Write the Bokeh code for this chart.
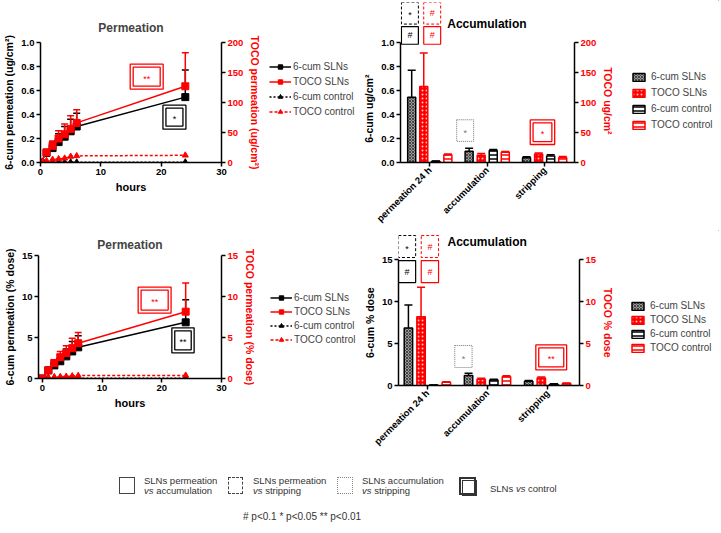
import math
from bokeh.plotting import figure
from bokeh.models import (Range1d, LinearAxis, FixedTicker, NumeralTickFormatter,
                          Legend, LegendItem, BoxAnnotation, Label, Div)
from bokeh.layouts import column, row
from bokeh.embed import file_html
from bokeh.resources import INLINE

# ---------------- data ----------------
hours = [0, 1, 2, 3, 4, 5, 6, 24]

# Permeation, ug/cm2 (6-cum on left axis, TOCO on right axis)
cum_sln_ug = [0, 0.08, 0.12, 0.17, 0.215, 0.26, 0.30, 0.545]
cum_sln_ug_sd = [0, 0.02, 0.05, 0.07, 0.085, 0.10, 0.11, 0.225]
toco_sln_ug = [0, 17, 28, 40, 47, 56, 66, 127]
toco_sln_ug_sd = [0, 4, 8, 13, 17, 22, 22, 56]
cum_ctrl_ug = [0, 0.001, 0.001, 0.002, 0.002, 0.002, 0.002, 0.003]
toco_ctrl_ug = [0, 3, 5, 6, 7, 10, 11, 12]

# Permeation, % dose
cum_sln_pct = [0, 1.0, 1.6, 2.1, 2.7, 3.3, 3.8, 6.85]
cum_sln_pct_sd = [0, 0.2, 0.6, 0.8, 0.9, 1.2, 1.4, 2.75]
toco_sln_pct = [0, 1.0, 1.9, 2.6, 3.1, 3.7, 4.3, 8.15]
toco_sln_pct_sd = [0, 0.2, 0.4, 0.7, 0.9, 1.2, 1.3, 3.5]
cum_ctrl_pct = [0, 0.01, 0.01, 0.02, 0.02, 0.02, 0.02, 0.03]
toco_ctrl_pct = [0, 0.15, 0.2, 0.22, 0.25, 0.3, 0.35, 0.38]

# Accumulation bars
categories = ["permeation 24 h", "accumulation", "stripping"]
series = ["6-cum SLNs", "TOCO SLNs", "6-cum control", "TOCO control"]

acc_ug = {
    "6-cum SLNs": ([0.545, 0.095, 0.04], [0.225, 0.025, 0.008]),
    "TOCO SLNs": ([127, 12, 14], [56, 3, 2]),
    "6-cum control": ([0.01, 0.10, 0.055], [0.003, 0.008, 0.01]),
    "TOCO control": ([13, 17, 8], [1, 1.5, 2]),
}
acc_pct = {
    "6-cum SLNs": ([6.85, 1.2, 0.5], [2.75, 0.25, 0.1]),
    "TOCO SLNs": ([8.2, 0.75, 0.9], [3.5, 0.1, 0.1]),
    "6-cum control": ([0.05, 0.65, 0.15], [0.02, 0.1, 0.05]),
    "TOCO control": ([0.4, 1.05, 0.25], [0.05, 0.1, 0.05]),
}

FONT = "Liberation Sans"
RED = "#ff0000"
EM, EN = "\u2003", "\u2002"
SCALE = {}


def base_fig(w, h, xr, yr, yr2, fl, fw, ft, fh, title=None):
    p = figure(width=w, height=h, x_range=Range1d(*xr), y_range=Range1d(*yr),
               output_backend="svg", toolbar_location=None, title=title,
               frame_align=False,
               min_border_left=fl, min_border_right=w - fl - fw,
               min_border_top=ft, min_border_bottom=h - ft - fh)
    p.extra_y_ranges = {"toco": Range1d(*yr2)}
    p.outline_line_color = None
    p.xgrid.visible = False
    p.ygrid.visible = False
    if title:
        p.title.text_font = FONT
        p.title.text_font_size = "12px"
        p.title.text_font_style = "bold"
        p.title.align = "center"
        p.title.standoff = 8
    SCALE[p.id] = ((xr[1] - xr[0]) / fw, (yr[1] - yr[0]) / fh)
    return p


def style_axis(ax, label, color="black", label_size="10.5px"):
    ax.axis_label = label
    ax.axis_label_text_font = FONT
    ax.axis_label_text_font_style = "bold"
    ax.axis_label_text_font_size = label_size
    ax.axis_label_text_color = color
    ax.axis_label_standoff = 3
    ax.major_label_text_font = FONT
    ax.major_label_text_font_style = "bold"
    ax.major_label_text_font_size = "9.5px"
    ax.major_label_text_color = color
    ax.major_label_standoff = 2
    ax.axis_line_width = 1.5
    ax.axis_line_color = "black"
    ax.major_tick_line_width = 1.5
    ax.major_tick_line_color = "black"
    ax.major_tick_in = 0
    ax.major_tick_out = 4
    ax.minor_tick_line_color = None


def add_axes(p, xlab, ylab, ylab2, xticks, yticks, yticks2, yfmt=None, bounds=None, bounds2=None):
    style_axis(p.xaxis[0], xlab, label_size="11px")
    p.xaxis[0].ticker = FixedTicker(ticks=xticks)
    style_axis(p.yaxis[0], ylab)
    p.yaxis[0].ticker = FixedTicker(ticks=yticks)
    if yfmt:
        p.yaxis[0].formatter = NumeralTickFormatter(format=yfmt)
    ax2 = LinearAxis(y_range_name="toco")
    style_axis(ax2, ylab2, color=RED)
    ax2.ticker = FixedTicker(ticks=yticks2)
    if bounds:
        p.yaxis[0].bounds = bounds
        ax2.bounds = bounds2
    p.add_layout(ax2, "right")


def sig_box(p, cx, cy, wpx, hpx, color, text, dash="solid", double=False, lw=1.3, tsize="9px"):
    sx, sy = SCALE[p.id]
    hw, hh = wpx / 2 * sx, hpx / 2 * sy
    p.add_layout(BoxAnnotation(left=cx - hw, right=cx + hw, bottom=cy - hh, top=cy + hh,
                               fill_alpha=0, line_alpha=1, line_color=color,
                               line_width=lw, line_dash=dash))
    if double:
        i = 3
        p.add_layout(BoxAnnotation(left=cx - hw + i * sx, right=cx + hw - i * sx,
                                   bottom=cy - hh + i * sy, top=cy + hh - i * sy,
                                   fill_alpha=0, line_alpha=1, line_color=color, line_width=lw))
    p.add_layout(Label(x=cx, y=cy, text=text, text_align="center", text_baseline="middle",
                       y_offset=-2 if "*" in text else 0,
                       text_font=FONT, text_font_size=tsize, text_color=color))


def panel_title(p, x, y, text):
    p.add_layout(Label(x=x, y=y, text=text, text_align="center", text_baseline="middle",
                       text_font=FONT, text_font_size="12px", text_font_style="bold",
                       text_color="black"))


# ---- separate narrow key figures, so keys sit outside the plot frames ----
line_style = [
    ("6-cum SLNs", dict(line_color="black", line_width=1.5), dict(marker="square", color="black")),
    ("TOCO SLNs", dict(line_color=RED, line_width=1.5), dict(marker="square", color=RED)),
    ("6-cum control", dict(line_color="black", line_width=1.5, line_dash="2 2"), dict(marker="triangle", color="black")),
    ("TOCO control", dict(line_color=RED, line_width=1.5, line_dash="3 2"), dict(marker="triangle", color=RED)),
]

bar_style = {
    "6-cum SLNs": dict(line_color="black", fill_color="#9a9a9a", hatch_pattern="diagonal_cross",
                       hatch_color="#303030", hatch_scale=3, hatch_weight=0.8),
    "TOCO SLNs": dict(line_color=RED, fill_color=RED, hatch_pattern="dot",
                      hatch_color="#ffc4c4", hatch_scale=4, hatch_weight=1),
    "6-cum control": dict(line_color="black", fill_color="white", hatch_pattern="horizontal_line",
                          hatch_color="black", hatch_scale=4, hatch_weight=1.5),
    "TOCO control": dict(line_color=RED, fill_color="white", hatch_pattern="horizontal_line",
                         hatch_color=RED, hatch_scale=4, hatch_weight=1.5),
}
on_right = {"6-cum SLNs": False, "TOCO SLNs": True, "6-cum control": False, "TOCO control": True}


def key_fig(w, h, kind, loc, spacing, standoff):
    # key-only figure: proxy glyphs sit outside its (0..1) ranges, only the legend shows
    kf = figure(width=w, height=h, x_range=Range1d(0, 1), y_range=Range1d(0, 1),
                output_backend="svg", toolbar_location=None, frame_align=False,
                x_axis_location=None, y_axis_location=None,
                min_border=0, min_border_left=0, min_border_right=0,
                min_border_top=0, min_border_bottom=0)
    kf.outline_line_color = None
    kf.grid.visible = False
    items = []
    if kind == "line":
        for lab, ls, ms in line_style:
            r1 = kf.line(x=[5, 6], y=[5, 5], **ls)
            r2 = kf.scatter(x=[5], y=[5], size=6, **ms)
            items.append(LegendItem(label=lab, renderers=[r1, r2]))
        gw, gh = 22, 11
    else:
        for s in series:
            r = kf.vbar(x=[5], top=[6], bottom=[5], width=0.1, line_width=1.5, **bar_style[s])
            items.append(LegendItem(label=s, renderers=[r]))
        gw, gh = 15, 10
    leg = Legend(items=items, location=loc, orientation="vertical",
                 border_line_color=None, background_fill_alpha=0,
                 label_text_font=FONT, label_text_font_size="10px",
                 glyph_width=gw, glyph_height=gh, label_height=11,
                 label_standoff=standoff, spacing=spacing, padding=0, margin=0)
    kf.add_layout(leg)
    return kf


def line_panel(p, cum, cum_sd, toco, toco_sd, cum_c, toco_c):
    up_c = [v + s for v, s in zip(cum, cum_sd)]
    up_t = [v + s for v, s in zip(toco, toco_sd)]
    # controls
    p.line(hours, cum_c, **line_style[2][1])
    p.scatter(hours, cum_c, size=6, **line_style[2][2])
    p.line(hours, toco_c, y_range_name="toco", **line_style[3][1])
    p.scatter(hours, toco_c, size=6, y_range_name="toco", **line_style[3][2])
    # error bars (upper only)
    p.segment(x0=hours, y0=cum, x1=hours, y1=up_c, line_color="black", line_width=1.5)
    p.scatter(hours, up_c, marker="dash", size=7, line_color="black", line_width=1.5)
    p.segment(x0=hours, y0=toco, x1=hours, y1=up_t, line_color=RED, line_width=1.5, y_range_name="toco")
    p.scatter(hours, up_t, marker="dash", size=7, line_color=RED, line_width=1.5, y_range_name="toco")
    # means
    p.line(hours, cum, **line_style[0][1])
    p.scatter(hours, cum, size=7, **line_style[0][2])
    p.line(hours, toco, y_range_name="toco", **line_style[1][1])
    p.scatter(hours, toco, size=7, y_range_name="toco", **line_style[1][2])


offsets = [-0.315, -0.105, 0.105, 0.315]


def bar_panel(p, data):
    for s, off in zip(series, offsets):
        vals, sds = data[s]
        st = bar_style[s]
        kw = {"y_range_name": "toco"} if on_right[s] else {}
        xs = [i + off for i in range(len(categories))]
        ups = [v + d for v, d in zip(vals, sds)]
        p.segment(x0=xs, y0=vals, x1=xs, y1=ups, line_color=st["line_color"], line_width=1.5, **kw)
        p.scatter(xs, ups, marker="dash", size=8, line_color=st["line_color"], line_width=1.5, **kw)
        p.vbar(x=xs, top=vals, bottom=0, width=0.14, line_width=1.5, **st, **kw)


# ---------------- top-left: permeation ug/cm2 ----------------
p1 = base_fig(266, 230, (0, 30), (0, 1.0), (0, 200), 40, 181, 42, 120, "Permeation")
p1.title.standoff = 16
add_axes(p1, "hours", "6-cum permeation (ug/cm²)", "TOCO permeation (ug/cm²)",
         [0, 10, 20, 30], [0, 0.2, 0.4, 0.6, 0.8, 1.0], [0, 50, 100, 150, 200], "0.0")
line_panel(p1, cum_sln_ug, cum_sln_ug_sd, toco_sln_ug, toco_sln_ug_sd, cum_ctrl_ug, toco_ctrl_ug)
sig_box(p1, 17.6, 0.715, 33, 25, RED, "**", double=True)
sig_box(p1, 22.2, 0.378, 23, 24, "black", "*", double=True)
k1 = key_fig(94, 230, "line", (3, 113), 4, 2)

# ---------------- top-right: accumulation ug/cm2 ----------------
p2 = base_fig(257, 230, (-0.51, 2.52), (0, 1.337), (0, 267.4), 32, 185, 2, 163)
add_axes(p2, "", "6-cum ug/cm²" + EM * 5, EM * 3 + EN + "TOCO ug/cm²", [0, 1, 2],
         [0, 0.2, 0.4, 0.6, 0.8, 1.0], [0, 50, 100, 150, 200], "0.0",
         bounds=(0, 1.0), bounds2=(0, 200))
p2.xaxis[0].major_label_overrides = {i: c for i, c in enumerate(categories)}
p2.xaxis[0].major_label_orientation = math.pi / 4
p2.xaxis[0].axis_label = None
bar_panel(p2, acc_ug)
panel_title(p2, 0.995, 1.159, "Accumulation")
sig_box(p2, -0.346, 1.247, 18, 22, "black", "*", dash="3 2", lw=1)
sig_box(p2, 0.042, 1.247, 18, 22, RED, "#", dash="3 2", lw=1)
sig_box(p2, -0.346, 1.062, 18, 18, "black", "#", lw=1.2)
sig_box(p2, 0.042, 1.062, 18, 18, RED, "#", lw=1.2)
sig_box(p2, 0.616, 0.267, 18, 22, "#777777", "*", dash="1 1", lw=1)
sig_box(p2, 1.962, 0.253, 26, 25, RED, "*", double=True)
k2 = key_fig(102, 230, "bar", (14, 100), 5, 5)

# ---------------- bottom-left: permeation % dose ----------------
p3 = base_fig(266, 234, (-0.65, 30), (0, 15), (0, 15), 32, 189, 25, 123, "Permeation")
p3.title.standoff = 8
add_axes(p3, "hours", "6-cum permeation (% dose)", "TOCO permeation (% dose)",
         [0, 10, 20, 30], [0, 5, 10, 15], [0, 5, 10, 15])
line_panel(p3, cum_sln_pct, cum_sln_pct_sd, toco_sln_pct, toco_sln_pct_sd, cum_ctrl_pct, toco_ctrl_pct)
sig_box(p3, 18.8, 9.56, 34, 26, RED, "**", double=True)
sig_box(p3, 23.55, 4.65, 23, 25, "black", "**", double=True)
k3 = key_fig(94, 234, "line", (4, 119), 3, 2)

# ---------------- bottom-right: accumulation % dose ----------------
p4 = base_fig(257, 234, (-0.48, 2.53), (0, 18.1), (0, 18.1), 33, 188, 3, 152)
add_axes(p4, "", "6-cum % dose" + EM * 2 + EN, EM * 2 + EN + "TOCO % dose",
         [0, 1, 2], [0, 5, 10, 15], [0, 5, 10, 15],
         bounds=(0, 15), bounds2=(0, 15))
p4.xaxis[0].major_label_overrides = {i: c for i, c in enumerate(categories)}
p4.xaxis[0].major_label_orientation = math.pi / 4
p4.xaxis[0].axis_label = None
bar_panel(p4, acc_pct)
panel_title(p4, 0.995, 17.06, "Accumulation")
sig_box(p4, -0.339, 16.55, 18, 22, "black", "*", dash="3 2", lw=1)
sig_box(p4, 0.042, 16.55, 18, 22, RED, "#", dash="3 2", lw=1)
sig_box(p4, -0.339, 13.57, 18, 22, "black", "#", lw=1.2)
sig_box(p4, 0.042, 13.57, 18, 22, RED, "#", lw=1.2)
sig_box(p4, 0.6, 3.45, 18, 22, "#777777", "*", dash="1 1", lw=1)
sig_box(p4, 2.06, 3.34, 32, 25, RED, "**", double=True)
k4 = key_fig(102, 234, "bar", (13, 111), 3, 5)

# ---------------- bottom key ----------------
key_html = """
<div style="position:relative;width:719px;height:67px;font-family:'Liberation Sans',Arial,sans-serif;font-size:9.5px;color:#333;">
 <div style="position:absolute;left:119px;top:13px;width:16px;height:17px;border:1px solid #444;"></div>
 <div style="position:absolute;left:144px;top:12px;line-height:10px;white-space:nowrap;">SLNs permeation<br><i>vs</i> accumulation</div>
 <div style="position:absolute;left:228px;top:13px;width:15px;height:17px;border:1px dashed #444;"></div>
 <div style="position:absolute;left:253px;top:12px;line-height:10px;white-space:nowrap;">SLNs permeation<br><i>vs</i> stripping</div>
 <div style="position:absolute;left:337px;top:13px;width:16px;height:17px;border:1px dotted #888;"></div>
 <div style="position:absolute;left:362px;top:12px;line-height:10px;white-space:nowrap;">SLNs accumulation<br><i>vs</i> stripping</div>
 <div style="position:absolute;left:459px;top:13px;width:17px;height:18px;border:2px solid #333;padding:1px;"><div style="width:15px;height:16px;border:1px solid #333;"></div></div>
 <div style="position:absolute;left:490px;top:18px;white-space:nowrap;">SLNs <i>vs</i> control</div>
 <div style="position:absolute;left:243px;top:46px;font-size:10px;white-space:nowrap;"># p&lt;0.1 * p&lt;0.05 ** p&lt;0.01</div>
</div>
"""
key = Div(text=key_html, width=719, height=67, margin=0)

layout = column(row(p1, k1, p2, k2), row(p3, k3, p4, k4), key)
open("out.html", "w").write(file_html(layout, INLINE))
